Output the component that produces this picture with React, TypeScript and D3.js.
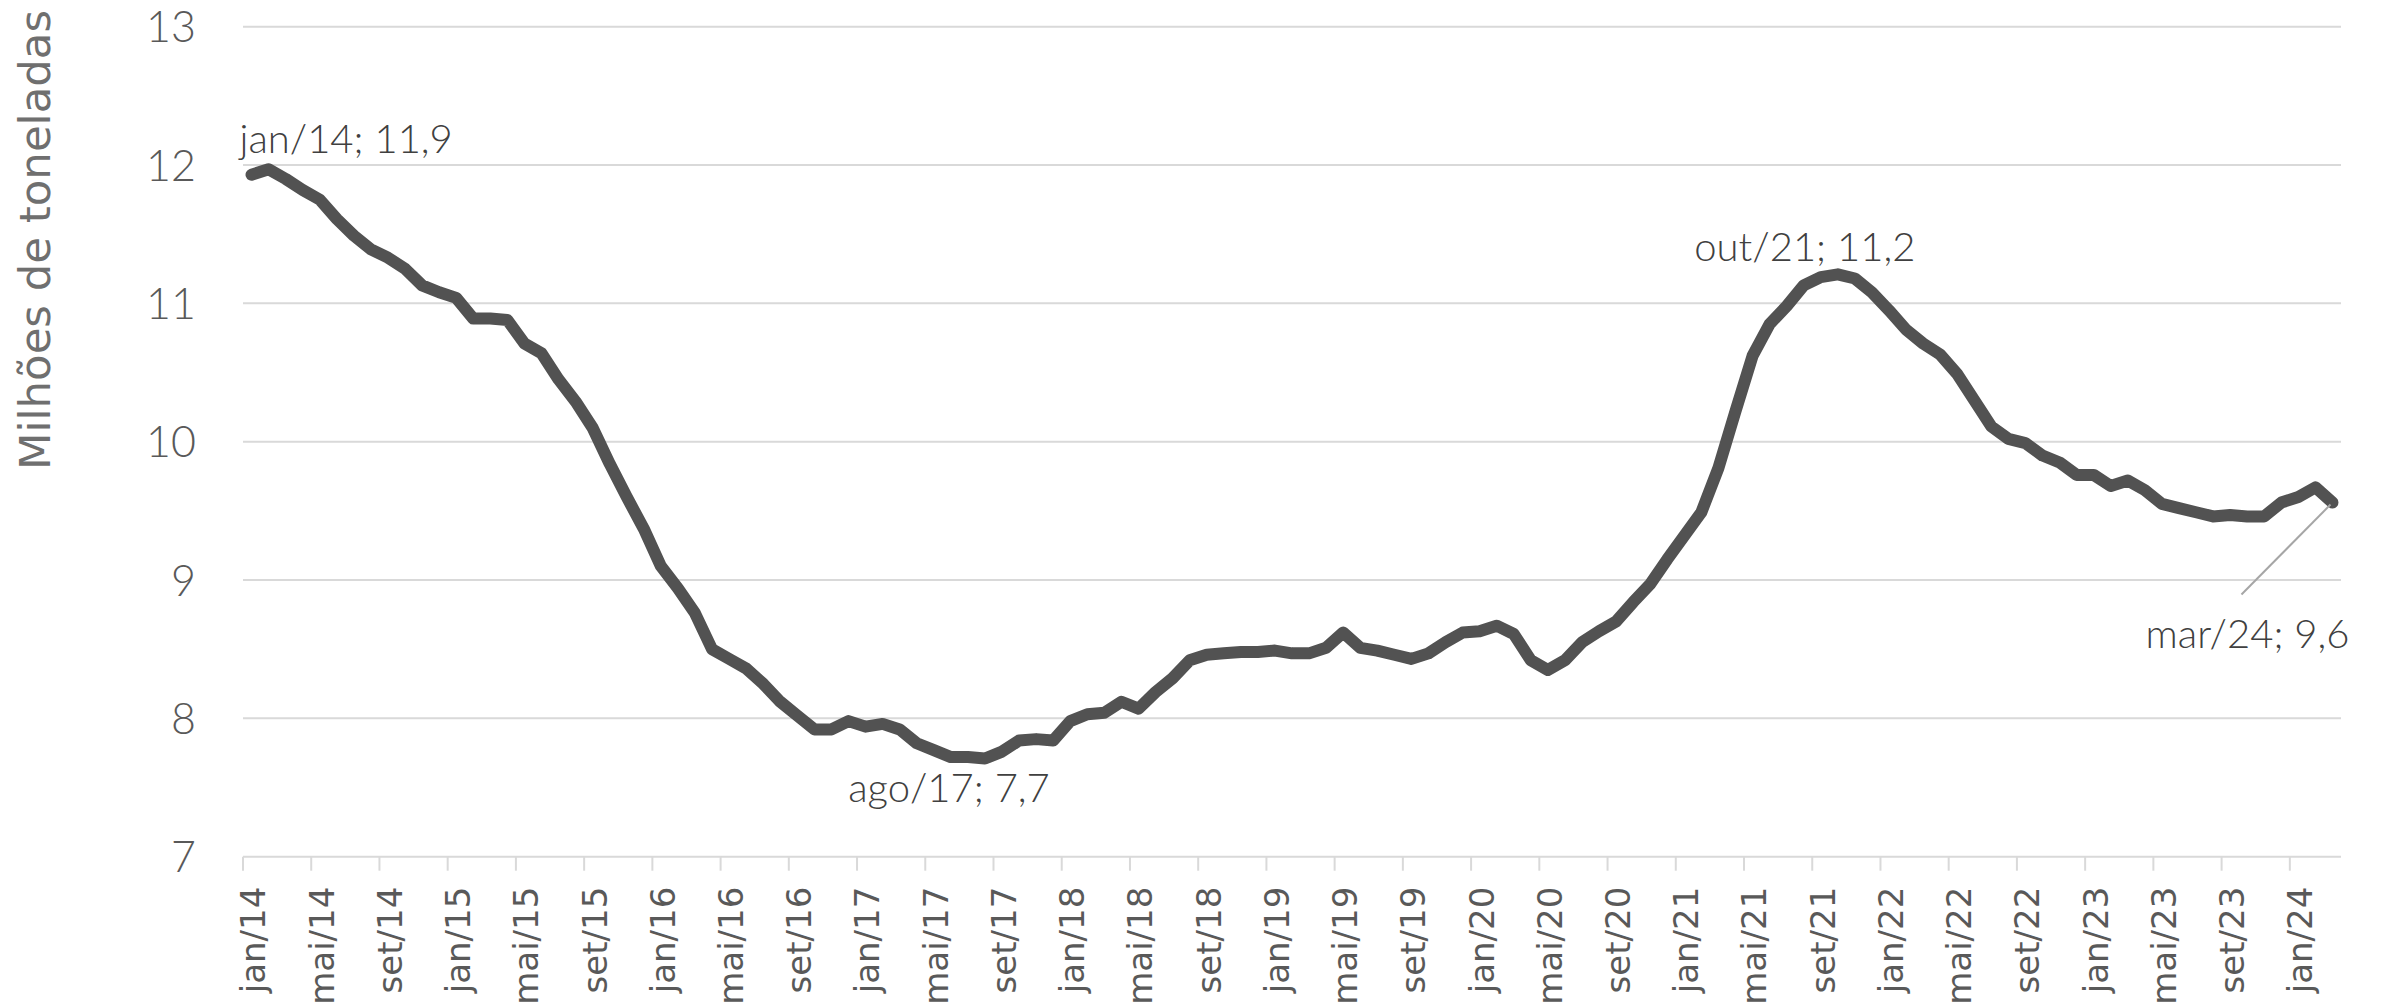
import * as d3 from 'd3'
import { useEffect, useRef } from 'react'

const monthNames = ['jan', 'fev', 'mar', 'abr', 'mai', 'jun', 'jul', 'ago', 'set', 'out', 'nov', 'dez']
const years = [14, 15, 16, 17, 18, 19, 20, 21, 22, 23, 24]

// milhões de toneladas, jan/14 .. mar/24
const values = [
  11.93, 11.97, 11.9, 11.82, 11.75, 11.61, 11.49, 11.39, 11.33, 11.25, 11.13, 11.08,
  11.04, 10.89, 10.89, 10.88, 10.71, 10.64, 10.45, 10.29, 10.1, 9.84, 9.6, 9.37,
  9.1, 8.94, 8.76, 8.5, 8.43, 8.36, 8.25, 8.12, 8.02, 7.92, 7.92, 7.98,
  7.94, 7.96, 7.92, 7.82, 7.77, 7.72, 7.72, 7.71, 7.76, 7.84, 7.85, 7.84,
  7.98, 8.03, 8.04, 8.12, 8.07, 8.19, 8.29, 8.42, 8.46, 8.47, 8.48, 8.48,
  8.49, 8.47, 8.47, 8.51, 8.62, 8.51, 8.49, 8.46, 8.43, 8.47, 8.55, 8.62,
  8.63, 8.67, 8.61, 8.42, 8.35, 8.42, 8.55, 8.63, 8.7, 8.84, 8.97, 9.15,
  9.32, 9.49, 9.81, 10.22, 10.62, 10.85, 10.98, 11.13, 11.19, 11.21, 11.18, 11.08,
  10.95, 10.81, 10.71, 10.63, 10.49, 10.3, 10.11, 10.02, 9.99, 9.9, 9.85, 9.76,
  9.76, 9.68, 9.72, 9.65, 9.55, 9.52, 9.49, 9.46, 9.47, 9.46, 9.46, 9.56,
  9.6, 9.67, 9.56,
]

const yTicks = [7, 8, 9, 10, 11, 12, 13]

const categories: string[] = []
years.forEach(y => monthNames.forEach(m => categories.push(`${m}/${y}`)))
const labels = categories.slice(0, values.length)

// rótulos destacados: índice do mês e posição do texto
const callouts = [
  { i: 0, text: 'jan/14; 11,9', anchor: 'start', dx: -12, dy: -22 },
  { i: 43, text: 'ago/17; 7,7', anchor: 'middle', dx: -36, dy: 44 },
  { i: 93, text: 'out/21; 11,2', anchor: 'middle', dx: -33, dy: -13 },
  { i: 122, text: 'mar/24; 9,6', anchor: 'end', dx: 17, dy: 145 },
]

export default function App() {
  const svgRef = useRef<SVGSVGElement | null>(null)

  useEffect(() => {
    if (!svgRef.current)
      return
    const width = 2384
    const height = 1004
    const left = 243
    const right = 2341
    const top = 26.7
    const bottom = 856.7

    const svg = d3.select(svgRef.current)
    svg.selectAll('*').remove()
    svg.attr('width', width).attr('height', height)

    const x = d3.scaleBand<string>().domain(labels).range([left, right])
    const cx = (d: string) => (x(d) || 0) + x.bandwidth() / 2
    const y = d3.scaleLinear().domain([7, 13]).range([bottom, top])

    // grade
    svg.append('g')
      .selectAll('line')
      .data(yTicks)
      .enter()
      .append('line')
      .attr('x1', left)
      .attr('x2', right)
      .attr('y1', d => y(d))
      .attr('y2', d => y(d))
      .attr('stroke', '#d9d9d9')
      .attr('stroke-width', 2)

    svg.append('g')
      .selectAll('text')
      .data(yTicks)
      .enter()
      .append('text')
      .attr('x', 196)
      .attr('y', d => y(d))
      .attr('dy', '0.36em')
      .attr('text-anchor', 'end')
      .attr('font-family', 'Lato, "Open Sans", sans-serif')
      .attr('font-weight', 300)
      .attr('font-size', 43)
      .attr('fill', '#595959')
      .text(d => d)

    // eixo x
    const tickCats = labels.filter((_, i) => i % 4 === 0)
    svg.append('g')
      .selectAll('line')
      .data(tickCats)
      .enter()
      .append('line')
      .attr('x1', d => x(d) || 0)
      .attr('x2', d => x(d) || 0)
      .attr('y1', bottom)
      .attr('y2', bottom + 14)
      .attr('stroke', '#d9d9d9')
      .attr('stroke-width', 2)

    svg.append('g')
      .selectAll('text')
      .data(tickCats)
      .enter()
      .append('text')
      .attr('transform', d => `translate(${cx(d) + 2},${bottom + 30}) rotate(-90)`)
      .attr('dy', '0.35em')
      .attr('text-anchor', 'end')
      .attr('font-family', '"DejaVu Sans", sans-serif')
      .attr('font-size', 34)
      .attr('fill', '#595959')
      .text(d => d)

    svg.append('text')
      .attr('transform', 'translate(50,240) rotate(-90)')
      .attr('text-anchor', 'middle')
      .attr('font-family', '"DejaVu Sans", sans-serif')
      .attr('font-size', 42)
      .attr('fill', '#6f6f6f')
      .attr('textLength', 460)
      .attr('lengthAdjust', 'spacingAndGlyphs')
      .text('Milhões de toneladas')

    // série
    const line = d3.line<number>()
      .x((_, i) => cx(labels[i]))
      .y(d => y(d))

    svg.append('path')
      .datum(values)
      .attr('d', line)
      .attr('fill', 'none')
      .attr('stroke', '#525252')
      .attr('stroke-width', 12)
      .attr('stroke-linejoin', 'round')
      .attr('stroke-linecap', 'round')

    // linha de chamada do último ponto
    const last = callouts[3]
    svg.append('line')
      .attr('x1', cx(labels[last.i]) - 2)
      .attr('y1', y(values[last.i]) + 2)
      .attr('x2', cx(labels[last.i]) - 91)
      .attr('y2', y(values[last.i]) + 92)
      .attr('stroke', '#a6a6a6')
      .attr('stroke-width', 2)

    svg.append('g')
      .selectAll('text')
      .data(callouts)
      .enter()
      .append('text')
      .attr('x', d => cx(labels[d.i]) + d.dx)
      .attr('y', d => y(values[d.i]) + d.dy)
      .attr('text-anchor', d => d.anchor)
      .attr('font-family', 'Lato, "Open Sans", sans-serif')
      .attr('font-weight', 300)
      .attr('font-size', 40)
      .attr('fill', '#404040')
      .text(d => d.text)
  }, [])

  return (
    <div style={{ position: 'absolute', left: 0, top: 0 }}>
      <svg ref={svgRef} style={{ display: 'block' }}></svg>
    </div>
  )
}
